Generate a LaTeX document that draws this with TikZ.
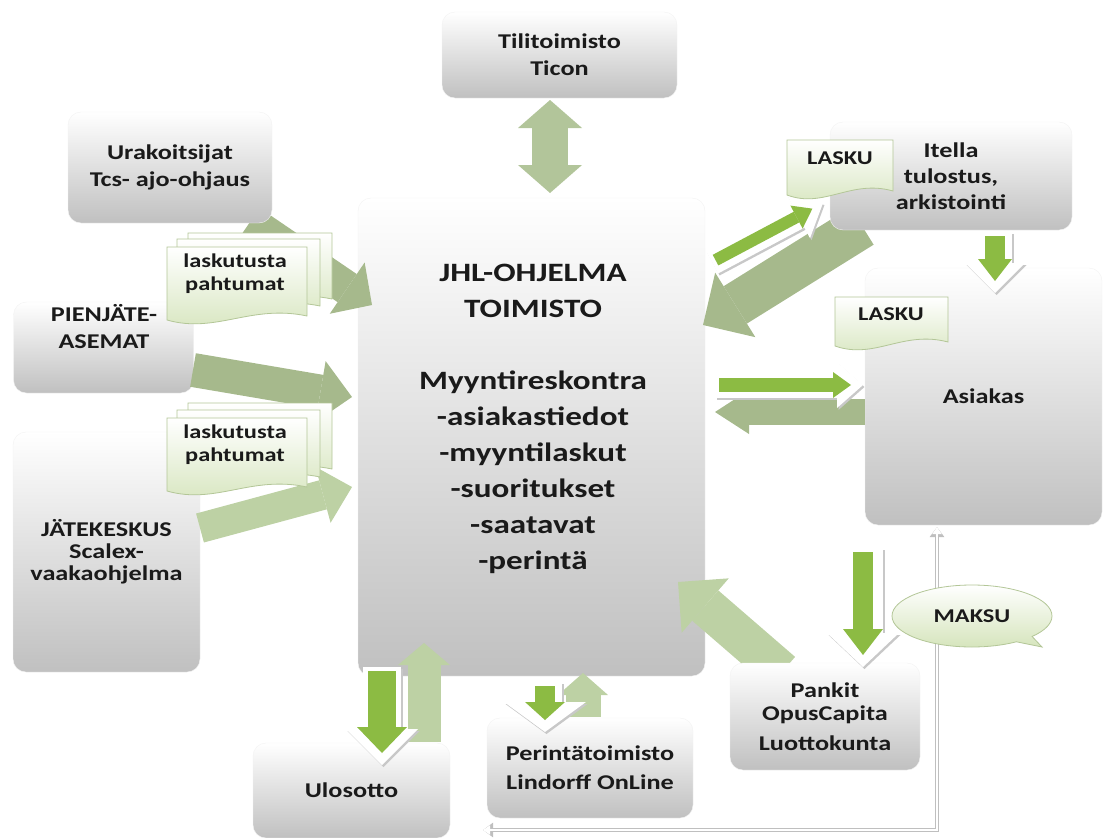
\documentclass[tikz,border=0pt]{standalone}
\usepackage{fontspec}
\setmainfont{Carlito}[FakeStretch=1.25]
\usetikzlibrary{arrows.meta,shapes.callouts,calc}
\definecolor{txt}{HTML}{1A1A1A}
\definecolor{dgreen}{HTML}{A6B98C}
\definecolor{mgreen}{HTML}{B2C59A}
\definecolor{lgreen}{HTML}{BDD1A4}
\definecolor{bgreen}{HTML}{8CBB43}
\definecolor{tagg}{HTML}{D6E5BD}
\definecolor{tagline}{HTML}{B3C697}
\definecolor{boxbot}{HTML}{C0C0C0}
\definecolor{shadowc}{HTML}{C8C8C8}
\tikzset{
  box/.style={rounded corners=13pt, top color=white, bottom color=boxbot, draw=gray!10, inner sep=0pt},
  btext/.style={align=center, text=txt, font=\bfseries\fontsize{21}{27}\selectfont, inner sep=0pt},
  mtext/.style={align=center, text=txt, font=\bfseries\fontsize{26.5}{36}\selectfont, inner sep=0pt},
  ttext/.style={align=center, text=txt, font=\bfseries\fontsize{19.5}{23}\selectfont, inner sep=0pt},
  sheet/.style={draw=tagline, line width=0.8pt, top color=white, bottom color=tagg},
  blk/.style args={#1/#2/#3}{line width=#1, -{Triangle[width=#2,length=#3,line width=0pt]}},
  dblk/.style args={#1/#2/#3}{line width=#1, {Triangle[width=#2,length=#3,line width=0pt]}-{Triangle[width=#2,length=#3,line width=0pt]}},
  maksu/.style={ellipse callout, draw=tagline, line width=0.8pt, top color=white, bottom color=tagg,
    minimum width=160pt, minimum height=62pt, inner sep=0pt},
}
\newcommand\brarrow[8]{%
  \draw[blk=#3/#4/#5, shadowc] ($(#1)+(1.5,2)$) -- ($(#2)+(1.5,2)$);
  \draw[blk=#3/#4/#5, white] (#1) -- (#2);
  \draw[blk=#6/#7/#8, bgreen] ($(#1)!4pt!(#2)$) -- ($(#2)!12pt!(#1)$);
}
\newcommand\docsheet[4]{%
  \draw[sheet] (#1,#2) -- (#3,#2) -- (#3,{#4-6}) .. controls ({#1+0.6*(#3-#1)},{#4-18}) and ({#1+0.35*(#3-#1)},{#4+12}) .. (#1,{#4-2}) -- cycle;}
\begin{document}
\begin{tikzpicture}[x=1pt,y=-1pt]
\useasboundingbox (0,0) rectangle (1104,838);
% main box
\node[box,minimum width=347pt,minimum height=478pt] (jhl) at (531.5,437) {};
\node[mtext] (jhltext) at (533,419) {JHL-OHJELMA\\TOIMISTO\\[36pt]Myyntireskontra\\-asiakastiedot\\-myyntilaskut\\-suoritukset\\-saatavat\\-perintä};
% arrows passing under the outer boxes
\coordinate (u1) at (250,222); \coordinate (u2) at (372,305);
\draw[blk=34pt/62pt/30pt, dgreen] (u1) -- (u2);
\coordinate (i1) at (862,226); \coordinate (i2) at (703,325);
\draw[blk=44pt/76pt/38pt, dgreen] (i1) -- (i2);
\coordinate (k1) at (782,672); \coordinate (k2) at (678,582);
\draw[blk=40pt/72pt/36pt, lgreen] (k1) -- (k2);
% outer boxes
\node[box,btext,minimum width=235pt,minimum height=86pt] (tili) at (559.5,55) {Tilitoimisto\\Ticon};
\node[box,btext,minimum width=204pt,minimum height=111pt] (ura) at (170,167.5) {Urakoitsijat\\Tcs- ajo-ohjaus};
\node[box,minimum width=180pt,minimum height=91pt] (pien) at (103.5,347.5) {};
\node[btext] (pientext) at (104,327) {PIENJÄTE-\\ASEMAT};
\node[box,btext,font=\bfseries\fontsize{21}{22}\selectfont,minimum width=187pt,minimum height=240pt] (jate) at (106.5,552) {JÄTEKESKUS\\Scalex-\\vaakaohjelma};
\node[box,btext,font=\bfseries\fontsize{21}{26}\selectfont,minimum width=242pt,minimum height=108pt] (itella) at (951,176) {Itella\\tulostus,\\arkistointi};
\node[box,btext,minimum width=237pt,minimum height=257pt] (asiakas) at (983.5,396.5) {Asiakas};
\node[box,btext,font=\bfseries\fontsize{21}{23}\selectfont,minimum width=190pt,minimum height=107pt] (pankit) at (825,716.5) {Pankit\\OpusCapita\\[7pt]Luottokunta};
\node[box,btext,minimum width=197pt,minimum height=95pt] (ulos) at (351.5,790.5) {Ulosotto};
\node[box,btext,font=\bfseries\fontsize{21}{29}\selectfont,minimum width=206pt,minimum height=100pt] (perinta) at (590,768) {Perintätoimisto\\Lindorff OnLine};
% plain block arrows
\coordinate (t1) at (550,100); \coordinate (t2) at (550,193);
\draw[dblk=36pt/64pt/28pt, mgreen] (t1) -- (t2);
\coordinate (p1) at (193,370); \coordinate (p2) at (352,397);
\draw[blk=34pt/62pt/32pt, dgreen] (p1) -- (p2);
\coordinate (j1) at (200,528); \coordinate (j2) at (352,487);
\draw[blk=30pt/58pt/30pt, lgreen] (j1) -- (j2);
\coordinate (a1) at (865,412); \coordinate (a2) at (715,412);
\draw[blk=26pt/44pt/34pt, dgreen] (a1) -- (a2);
\coordinate (o1) at (424,742); \coordinate (o2) at (424,643);
\draw[blk=33pt/52pt/22pt, lgreen] (o1) -- (o2);
\coordinate (r1) at (583,717); \coordinate (r2) at (583,673);
\draw[blk=35pt/50pt/22pt, lgreen] (r1) -- (r2);
% bright outlined arrows
\coordinate (b1s) at (712,262); \coordinate (b1e) at (823,203);
\brarrow{b1s}{b1e}{26pt}{50pt}{28pt}{12pt}{26pt}{18pt}
\coordinate (b2s) at (715,385); \coordinate (b2e) at (863,385);
\brarrow{b2s}{b2e}{26pt}{46pt}{26pt}{14pt}{26pt}{18pt}
\coordinate (b3s) at (995,232); \coordinate (b3e) at (995,293);
\brarrow{b3s}{b3e}{34pt}{60pt}{30pt}{20pt}{34pt}{22pt}
\coordinate (b4s) at (863,548); \coordinate (b4e) at (863,667);
\brarrow{b4s}{b4e}{40pt}{72pt}{34pt}{20pt}{40pt}{26pt}
\coordinate (b5s) at (382,667); \coordinate (b5e) at (382,765);
\brarrow{b5s}{b5e}{38pt}{72pt}{36pt}{28pt}{50pt}{26pt}
\coordinate (b6s) at (545,682); \coordinate (b6e) at (545,732);
\brarrow{b6s}{b6e}{34pt}{82pt}{30pt}{20pt}{40pt}{18pt}
% thin connector Perintätoimisto -> Asiakas
\coordinate (pl) at (483,830); \coordinate (ab) at (937,527);
\draw[gray!50, line width=4pt, {Triangle[width=14pt,length=10pt]}-{Triangle[width=14pt,length=10pt]}] (pl) -| (ab);
\draw[white, line width=2pt, {Triangle[width=9pt,length=7pt]}-{Triangle[width=9pt,length=7pt]}] (pl) -| (ab);
% document tags
\docsheet{188}{233}{332}{305}
\docsheet{177}{239}{320}{312}
\docsheet{167}{247}{307}{322}
\node[ttext] (lp1) at (235,274) {laskutusta\\pahtumat};
\docsheet{188}{403}{332}{475}
\docsheet{177}{410}{320}{483}
\docsheet{167}{418}{307}{493}
\node[ttext] (lp2) at (235,445) {laskutusta\\pahtumat};
\docsheet{787}{140}{893}{197}
\node[ttext] (lasku1) at (840,158) {LASKU};
\docsheet{835}{297}{948}{348}
\node[ttext] (lasku2) at (891,314) {LASKU};
\node[maksu, ttext, callout absolute pointer={(1042,647)}] (maksu) at (972,616) {MAKSU};
\end{tikzpicture}
\end{document}
